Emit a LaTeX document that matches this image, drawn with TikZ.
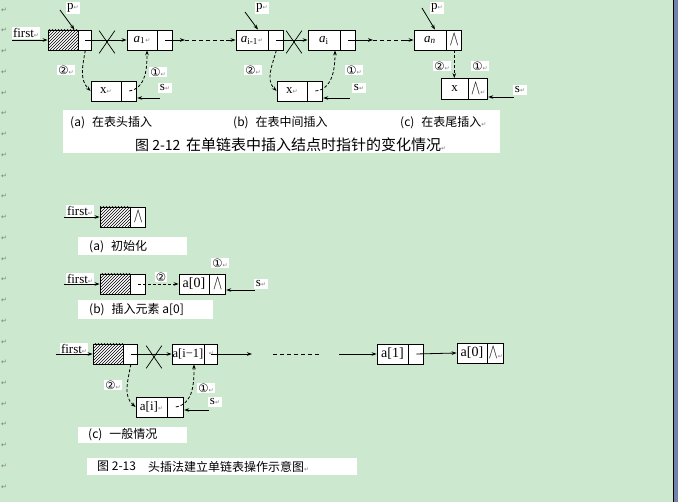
\documentclass[tikz,border=0pt]{standalone}
\usepackage{graphicx}
\usepackage{fontspec}
\setmainfont{Liberation Serif}
\newfontfamily\cjk{Noto Sans CJK SC}
\newfontfamily\symfont{DejaVu Sans}
\usetikzlibrary{arrows.meta, positioning, patterns, shapes.misc, calc}
\definecolor{bggreen}{RGB}{204,232,207}
\definecolor{markgray}{RGB}{125,125,125}
\definecolor{edgeblue}{RGB}{112,132,170}
\newcommand{\retmark}{{\symfont\fontsize{6}{6}\selectfont\color{markgray}↵}}
\newcommand{\nilmark}{\scalebox{1.15}[1.75]{$\wedge$}}

\begin{document}
\begin{tikzpicture}[
  x=1pt, y=1pt,
  node distance = 0pt,
  datbox/.style   = {rectangle, draw, line width=0.8pt, fill=white,
                     minimum width=#1, minimum height=20pt, inner sep=0pt,
                     font=\fontsize{13}{13}\selectfont},
  datbox/.default = 30pt,
  ptrbox/.style   = {datbox=#1},
  ptrbox/.default = 15pt,
  hatchbox/.style = {datbox=30pt, postaction={pattern=north east lines}},
  lbl/.style      = {fill=white, inner sep=1.5pt, font=\fontsize{13}{13}\selectfont},
  num/.style      = {fill=white, inner sep=1pt, font=\symfont\fontsize{11.5}{11.5}\selectfont},
  cross/.style    = {cross out, draw, line width=0.7pt, minimum width=15pt,
                     minimum height=22pt, inner sep=0pt},
  capbox/.style   = {fill=white, anchor=north west, inner sep=0pt},
  captxt/.style   = {anchor=west, inner sep=0pt, font=\cjk\fontsize{12}{12}\selectfont},
  arr/.style      = {-{Stealth[length=5pt,width=3.6pt]}, line width=0.8pt},
  darr/.style     = {arr, dash pattern=on 3pt off 2pt},
]
% page
\useasboundingbox (0,0) rectangle (678,-502);
\fill[bggreen] (0,0) rectangle (678,-502);
\fill[edgeblue] (673,0) rectangle (678,-502);
\draw[line width=1pt] (673.5,0) -- (673.5,-502);
\foreach \k in {0,...,23}
  \node[inner sep=0pt, font=\symfont\fontsize{7}{7}\selectfont, markgray]
    (mk\k) at (4,-10-20.74*\k) {↵};

% ---------- Fig 2-12 ----------
% (a) insert at head
\node[hatchbox]                      (hdA) at (63,-40) {};
\node[ptrbox=13pt, right=of hdA]     (hpA) {};
\node[datbox]                        (aA)  at (142,-40) {\textit{a}\textsubscript{1}\retmark};
\node[ptrbox, right=of aA]           (apA) {};
\node[datbox]                        (xA)  at (106,-91) {x\retmark};
\node[ptrbox, right=of xA]           (xpA) {};
\node[lbl] (firstA) at (26,-33) {first\retmark};
\node[lbl] (pA)     at (73,-8)  {p\retmark};
\node[lbl] (sA)     at (165,-88) {s\retmark};
\node[num] (n2A)    at (66,-70) {②\retmark};
\node[num] (n1A)    at (158,-72) {①\retmark};
\node[cross] (crA) at (107,-42) {};
\coordinate (fA0) at (12,-40);
\coordinate (pA0) at (60,-10);
\coordinate (sA0) at (160,-98);
\coordinate (mA1) at (185,-40);
\coordinate (mA2) at (226,-40);

% (b) insert in the middle
\node[datbox=32pt]                   (ai1) at (252,-40) {\textit{a}\textsubscript{i-1}\retmark};
\node[ptrbox, right=of ai1]          (ai1p) {};
\node[datbox=32pt]                   (ai)  at (324,-40) {\textit{a}\textsubscript{i}};
\node[ptrbox, right=of ai]           (aip) {};
\node[datbox]                        (xB)  at (292,-91) {x\retmark};
\node[ptrbox, right=of xB]           (xpB) {};
\node[lbl] (pB)  at (262,-8)  {p\retmark};
\node[lbl] (sB)  at (359,-88) {s\retmark};
\node[num] (n2B) at (253,-70) {②\retmark};
\node[num] (n1B) at (354,-70) {①\retmark};
\node[cross] (crB) at (294,-42) {};
\coordinate (pB0) at (245,-12);
\coordinate (sB0) at (350,-98);
\coordinate (mB1) at (373,-40);
\coordinate (mB2) at (404,-40);

% (c) insert at tail
\node[datbox=32pt]                   (an)  at (430,-40) {\textit{a}\textsubscript{\textit{n}}};
\node[ptrbox, right=of an]           (anp) {\nilmark};
\node[datbox=27pt, minimum height=21pt] (xC) at (454.5,-89) {x};
\node[ptrbox=19pt, minimum height=21pt, right=of xC] (xpC) {\nilmark\retmark};
\node[lbl] (pC)  at (437,-8)  {p\retmark};
\node[lbl] (sC)  at (520,-90) {s\retmark};
\node[num] (n2C) at (442,-66) {②\retmark};
\node[num] (n1C) at (480,-66) {①\retmark};
\coordinate (pC0) at (422,-8);
\coordinate (sC0) at (514,-97);

% caption 2-12
\node[capbox, minimum width=437pt, minimum height=43pt] (capA) at (63,-110) {};
\node[captxt] (capAa) at (70,-123)  {(a)\hspace{7pt}在表头插入};
\node[captxt] (capAb) at (233,-123) {(b)\hspace{7pt}在表中间插入};
\node[captxt] (capAc) at (400,-123) {(c)\hspace{7pt}在表尾插入\retmark};
\node[captxt, font=\cjk\fontsize{14}{14}\selectfont] (capAn) at (135,-145) {图 2-12};
\node[captxt, font=\cjk\fontsize{15}{15}\selectfont] (capAt) at (186,-145)
  {在单链表中插入结点时指针的变化情况\retmark};

% ---------- Fig 2-13 ----------
% (a) init
\node[hatchbox]                      (hdD) at (115,-217) {};
\node[ptrbox, right=of hdD]          (hpD) {\nilmark};
\node[lbl] (firstD) at (80,-211) {first\retmark};
\coordinate (fD0) at (64,-217);
\node[capbox, minimum width=109pt, minimum height=18pt] (capD) at (78,-237) {};
\node[captxt] (capDt) at (89,-247) {(a)\hspace{7pt}初始化};

% (b) insert a[0]
\node[hatchbox]                      (hdE) at (115,-284) {};
\node[ptrbox, right=of hdE]          (hpE) {};
\node[datbox, font=\fontsize{14}{14}\selectfont] (aE0) at (194,-284) {a[0]};
\node[ptrbox=16pt, right=of aE0]     (aE0p) {\nilmark};
\node[lbl] (firstE) at (80,-279) {first\retmark};
\node[lbl] (sE)  at (261,-284) {s\retmark};
\node[num] (n2E) at (161,-277) {②};
\node[num] (n1E) at (220,-263) {①\retmark};
\coordinate (fE0) at (64,-284);
\coordinate (sE0) at (255,-290);
\node[capbox, minimum width=135pt, minimum height=19pt] (capE) at (78,-300) {};
\node[captxt] (capEt) at (89,-309.5) {(b)\hspace{7pt}插入元素 a[0]};

% (c) general case
\node[hatchbox]                      (hdF) at (108,-354) {};
\node[ptrbox=14pt, right=of hdF]     (hpF) {};
\node[datbox=32pt, font=\fontsize{12.5}{12.5}\selectfont] (aF1) at (188,-354) {a[i−1]};
\node[ptrbox=13pt, right=of aF1]     (aF1p) {\retmark};
\node[datbox=31pt, font=\fontsize{14}{14}\selectfont] (aFb) at (392.5,-354) {a[1]};
\node[ptrbox, right=of aFb]          (aFbp) {};
\node[datbox, font=\fontsize{14}{14}\selectfont] (aFc) at (472,-353) {a[0]};
\node[ptrbox=16pt, right=of aFc]     (aFcp) {\nilmark\retmark};
\node[datbox=31pt, font=\fontsize{13}{13}\selectfont] (aFi) at (151.5,-407) {a[i]\retmark};
\node[ptrbox=16pt, right=of aFi]     (aFip) {};
\node[lbl] (firstF) at (74,-349) {first\retmark};
\node[lbl] (sF)  at (215,-402) {s\retmark};
\node[num] (n2F) at (113,-385) {②\retmark};
\node[num] (n1F) at (206,-388) {①\retmark};
\node[cross] (crF) at (154,-357) {};
\coordinate (fF0) at (56,-354);
\coordinate (sF0) at (209,-410);
\coordinate (mF1) at (252,-354);
\coordinate (mF2) at (273,-354);
\coordinate (mF3) at (320,-354);
\coordinate (mF4) at (339,-354);
\node[capbox, minimum width=109pt, minimum height=16pt] (capF) at (78,-427) {};
\node[captxt] (capFt) at (88,-435) {(c)\hspace{7pt}一般情况};

% caption 2-13
\node[capbox, minimum width=270pt, minimum height=17pt] (capG) at (87,-458) {};
\node[captxt] (capGn) at (97,-466.5)  {图 2-13};
\node[captxt] (capGt) at (148,-466.5) {头插法建立单链表操作示意图\retmark};

% ---------- Arrows ----------
% fig 2-12 (a)
\draw[arr] (fA0) -- (hdA.west);
\draw[arr] (pA0) -- ([xshift=-4pt]hdA.north east);
\draw[arr] (hpA.center) -- (aA.west);
\draw[arr] (apA.center) -- (mA1);
\draw[dash pattern=on 4pt off 3pt, line width=0.8pt] (mA1) -- (mA2);
\draw[arr] (mA2) -- (ai1.west);
\draw[arr] (sA0) -- (sA0 -| xpA.east);
\draw[darr] (hpA.south) to[out=-100, in=135] (xA.west);
\draw[darr] (xpA.center) to[out=10, in=-90] ([xshift=5pt]aA.south);
% fig 2-12 (b)
\draw[arr] (pB0) -- ([xshift=6pt]ai1.north);
\draw[arr] (ai1p.center) -- (ai.west);
\draw[arr] (aip.center) -- (mB1);
\draw[dash pattern=on 4pt off 3pt, line width=0.8pt] (mB1) -- (mB2);
\draw[arr] (mB2) -- (an.west);
\draw[arr] (sB0) -- (sB0 -| xpB.east);
\draw[darr] (ai1p.south) to[out=-105, in=135] (xB.west);
\draw[darr] (xpB.center) to[out=5, in=-90] ([xshift=11pt]ai.south);
% fig 2-12 (c)
\draw[arr] (pC0) -- ([xshift=5pt]an.north);
\draw[darr] (anp.south) -- (anp.south |- xC.north);
\draw[arr] (sC0) -- (sC0 -| xpC.east);
% fig 2-13 (a), (b)
\draw[arr] (fD0) -- (hdD.west);
\draw[arr] (fE0) -- (hdE.west);
\draw[darr] (hpE.center) -- (aE0.west);
\draw[arr] (sE0) -- (sE0 -| aE0p.east);
% fig 2-13 (c)
\draw[arr] (fF0) -- (hdF.west);
\draw[arr] (hpF.center) -- (aF1.west);
\draw[arr] (aF1p.center) -- (mF1);
\draw[dash pattern=on 4pt off 3pt, line width=0.8pt] (mF2) -- (mF3);
\draw[arr] (mF4) -- (aFb.west);
\draw[arr] (aFbp.center) -- (aFc.west);
\draw[arr] (sF0) -- (sF0 -| aFip.east);
\draw[darr] (hpF.south) to[out=-100, in=140] (aFi.west);
\draw[darr] (aFip.center) to[out=10, in=-90] ([xshift=6pt]aF1.south);
\end{tikzpicture}
\end{document}
